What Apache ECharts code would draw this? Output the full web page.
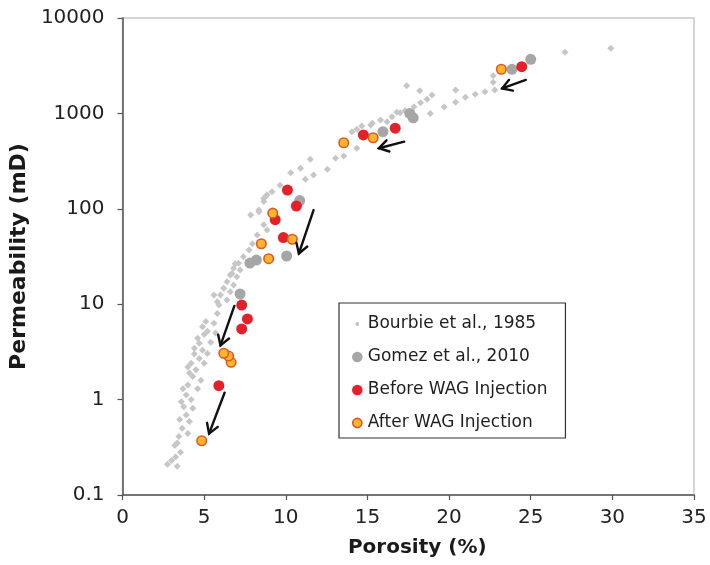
<!DOCTYPE html>
<html>
<head>
<meta charset="utf-8">
<title>Porosity vs Permeability</title>
<script src="https://cdn.jsdelivr.net/npm/echarts@6/dist/echarts.min.js"></script>
<style>
  html, body { margin: 0; padding: 0; background: #fff; }
  #chart { width: 710px; height: 565px; }
</style>
</head>
<body>
<div id="chart"></div>
<script>
// Porosity (%) vs permeability (mD) measurements
const bourbie1985 = [
  [2.75, 0.21], [3.35, 0.20], [3.25, 0.25], [3.0, 0.23], [3.55, 0.28], [3.2, 0.33], [3.35, 0.35],
  [3.45, 0.41], [4.0, 0.44], [3.65, 0.50], [4.1, 0.59], [3.5, 0.62], [3.9, 0.69], [3.75, 0.84],
  [4.3, 0.81], [3.6, 0.95], [4.2, 1.0], [3.9, 1.12], [3.7, 1.3], [4.6, 1.3], [4.0, 1.42],
  [4.8, 1.6], [4.3, 1.75], [4.1, 1.9], [4.5, 2.05], [4.0, 2.2], [4.2, 2.4], [5.0, 2.4],
  [4.7, 2.7], [4.4, 3.0], [5.2, 3.05], [4.9, 3.3], [4.4, 3.45], [4.7, 3.9], [5.4, 4.0],
  [4.6, 4.4], [5.0, 4.8], [5.7, 5.0], [5.2, 5.2], [4.9, 5.8], [5.6, 6.3], [5.1, 6.6],
  [5.8, 8.0], [5.9, 9.8], [5.8, 10.6], [6.4, 11.1], [5.6, 12.5], [6.0, 12.5], [6.6, 13.5],
  [6.2, 14.7], [6.8, 15.9], [6.4, 17.2], [7.0, 19.4], [6.6, 20.2], [6.7, 21.0], [7.2, 22.8],
  [6.8, 23.8], [6.9, 26.5], [7.1, 26.8], [7.4, 31.5], [7.75, 37], [7.95, 43], [8.25, 53],
  [8.85, 60], [8.65, 68], [7.85, 86], [8.35, 93], [8.35, 97], [8.65, 119], [8.65, 128],
  [8.75, 134], [8.85, 140], [9.15, 151], [9.65, 177], [11.2, 204], [11.7, 226], [10.3, 239],
  [12.55, 259], [10.9, 266], [11.5, 330], [13.05, 338], [13.55, 357], [14.35, 430],
  [14.05, 643], [14.35, 681], [14.65, 738], [15.2, 755], [15.3, 787], [16.2, 818],
  [15.8, 853], [16.5, 924], [17.0, 1016], [16.8, 1026], [17.3, 1067], [18.85, 1000],
  [17.85, 1175], [19.7, 1170], [18.25, 1295], [20.4, 1306], [18.65, 1406], [21.0, 1475],
  [18.95, 1560], [21.6, 1585], [22.2, 1690], [18.2, 1730], [20.4, 1758], [22.8, 1758],
  [17.4, 1950], [22.7, 2120], [22.7, 2485], [27.1, 4365], [29.9, 4806]
];
const gomez2010 = [
  [7.2, 12.8], [7.8, 27], [8.2, 29], [10.05, 32], [10.85, 122], [15.95, 643],
  [17.8, 900], [17.6, 1000], [23.85, 2900], [25.0, 3690]
];
const beforeWAG = [
  [5.9, 1.4], [7.3, 5.5], [7.65, 7.0], [7.3, 9.8], [9.85, 50], [9.35, 77], [10.65, 107],
  [10.1, 157], [14.75, 595], [16.7, 700], [24.45, 3090]
];
const afterWAG = [
  [4.85, 0.37], [6.65, 2.46], [6.5, 2.86], [6.2, 3.06], [8.95, 30], [8.5, 43], [10.4, 48],
  [9.2, 90], [13.55, 493], [15.35, 556], [23.2, 2900]
];
// shift arrows: [fromPorosity, fromPerm, toPorosity, toPerm]
const wagArrows = [
  [24.7, 2240, 23.25, 1830],
  [17.25, 505, 15.7, 431],
  [11.7, 97, 10.8, 34],
  [6.85, 9.6, 6.0, 3.7],
  [6.25, 1.18, 5.3, 0.44]
];
const seriesNames = ['Bourbie et al., 1985', 'Gomez et al., 2010', 'Before WAG Injection', 'After WAG Injection'];
const xTicks = [0, 5, 10, 15, 20, 25, 30, 35];
const yTickLabels = ['0.1', '1', '10', '100', '1000', '10000'];

const FONT = 'DejaVu Sans, Liberation Sans, Arial, sans-serif';

// legend icons: a circle inside an 11x11 box (corner anchors keep the box size)
function dotIcon(r) {
  const c = 5.5;
  return 'path://M0,0M11,11M' + (c - r) + ',' + c +
    'a' + r + ',' + r + ' 0 1,0 ' + (2 * r) + ',0' +
    'a' + r + ',' + r + ' 0 1,0 ' + (-2 * r) + ',0Z';
}

function renderArrow(params, api) {
  const p0 = api.coord([api.value(0), api.value(1)]);
  const p1 = api.coord([api.value(2), api.value(3)]);
  const ang = Math.atan2(p1[1] - p0[1], p1[0] - p0[0]);
  const L = 11, a = 0.55;
  const h1 = [p1[0] - L * Math.cos(ang - a), p1[1] - L * Math.sin(ang - a)];
  const h2 = [p1[0] - L * Math.cos(ang + a), p1[1] - L * Math.sin(ang + a)];
  const st = { stroke: '#111', lineWidth: 2.4, fill: null, lineCap: 'round', lineJoin: 'miter' };
  return {
    type: 'group',
    children: [
      { type: 'line', shape: { x1: p0[0], y1: p0[1], x2: p1[0], y2: p1[1] }, style: st },
      { type: 'polyline', shape: { points: [h1, p1, h2] }, style: st }
    ]
  };
}

const chart = echarts.init(document.getElementById('chart'), null, { renderer: 'canvas' });
chart.setOption({
  animation: false,
  backgroundColor: '#fff',
  grid: {
    left: 122, right: 16, top: 18, bottom: 70,
    show: true, borderColor: '#c8c8c8', borderWidth: 1.5, backgroundColor: 'transparent'
  },
  legend: {
    orient: 'vertical',
    left: 339, top: 303,
    padding: [11, 18, 5, 12],
    borderColor: '#333', borderWidth: 1.2, borderRadius: 0,
    backgroundColor: '#fff',
    itemWidth: 11, itemHeight: 11, itemGap: 13,
    textStyle: { fontFamily: FONT, fontSize: 17, lineHeight: 20, color: '#1e1e1e' },
    data: [
      { name: seriesNames[0], icon: dotIcon(2), itemStyle: { color: '#c4c4c4' } },
      { name: seriesNames[1], icon: dotIcon(5.3), itemStyle: { color: '#a6a6a6' } },
      { name: seriesNames[2], icon: dotIcon(5.3), itemStyle: { color: '#e4202a' } },
      { name: seriesNames[3], icon: dotIcon(4.6), itemStyle: { color: '#fbb62e', borderColor: '#e4561f', borderWidth: 1.6 } }
    ]
  },
  xAxis: {
    type: 'value', min: 0, max: 35, interval: 5,
    name: 'Porosity (%)', nameLocation: 'middle', nameGap: 43,
    nameTextStyle: { fontFamily: FONT, fontSize: 20, fontWeight: 'bold', color: '#1a1a1a', padding: [0, 0, 0, 18] },
    axisLine: { show: true, onZero: false, lineStyle: { color: '#555', width: 1.5 } },
    axisTick: { show: true, inside: false, length: 5, lineStyle: { color: '#555', width: 1.2 } },
    axisLabel: { fontFamily: FONT, fontSize: 20, color: '#222', margin: 13, formatter: v => String(xTicks[Math.round(v / 5)]) },
    splitLine: { show: false }
  },
  yAxis: {
    type: 'log', logBase: 10, min: 0.1, max: 10000,
    name: 'Permeability (mD)', nameLocation: 'middle', nameGap: 88, nameRotate: 90,
    nameTextStyle: { fontFamily: FONT, fontSize: 22, fontWeight: 'bold', color: '#1a1a1a' },
    axisLine: { show: true, lineStyle: { color: '#555', width: 1.5 } },
    axisTick: { show: true, inside: false, length: 5, lineStyle: { color: '#555', width: 1.2 } },
    minorTick: { show: false },
    axisLabel: {
      fontFamily: FONT, fontSize: 20, color: '#222', margin: 18,
      formatter: v => yTickLabels[Math.round(Math.log10(v)) + 1]
    },
    splitLine: { show: false }
  },
  series: [
    {
      name: seriesNames[0], type: 'scatter', data: bourbie1985,
      symbol: 'diamond', symbolSize: 7, z: 2,
      itemStyle: { color: '#c6c6c6', opacity: 1 }
    },
    {
      name: seriesNames[1], type: 'scatter', data: gomez2010,
      symbol: 'circle', symbolSize: 11, z: 3,
      itemStyle: { color: '#a6a6a6', opacity: 1 }
    },
    {
      name: seriesNames[2], type: 'scatter', data: beforeWAG,
      symbol: 'circle', symbolSize: 11, z: 4,
      itemStyle: { color: '#e4202a', opacity: 1 }
    },
    {
      name: seriesNames[3], type: 'scatter', data: afterWAG,
      symbol: 'circle', symbolSize: 9.5, z: 5,
      itemStyle: { color: '#fbb62e', borderColor: '#e4561f', borderWidth: 1.6, opacity: 1 }
    },
    {
      name: 'WAG shift', type: 'custom', data: wagArrows, z: 6,
      encode: { x: [0, 2], y: [1, 3] },
      renderItem: renderArrow,
      silent: true
    }
  ]
});
</script>
</body>
</html>
